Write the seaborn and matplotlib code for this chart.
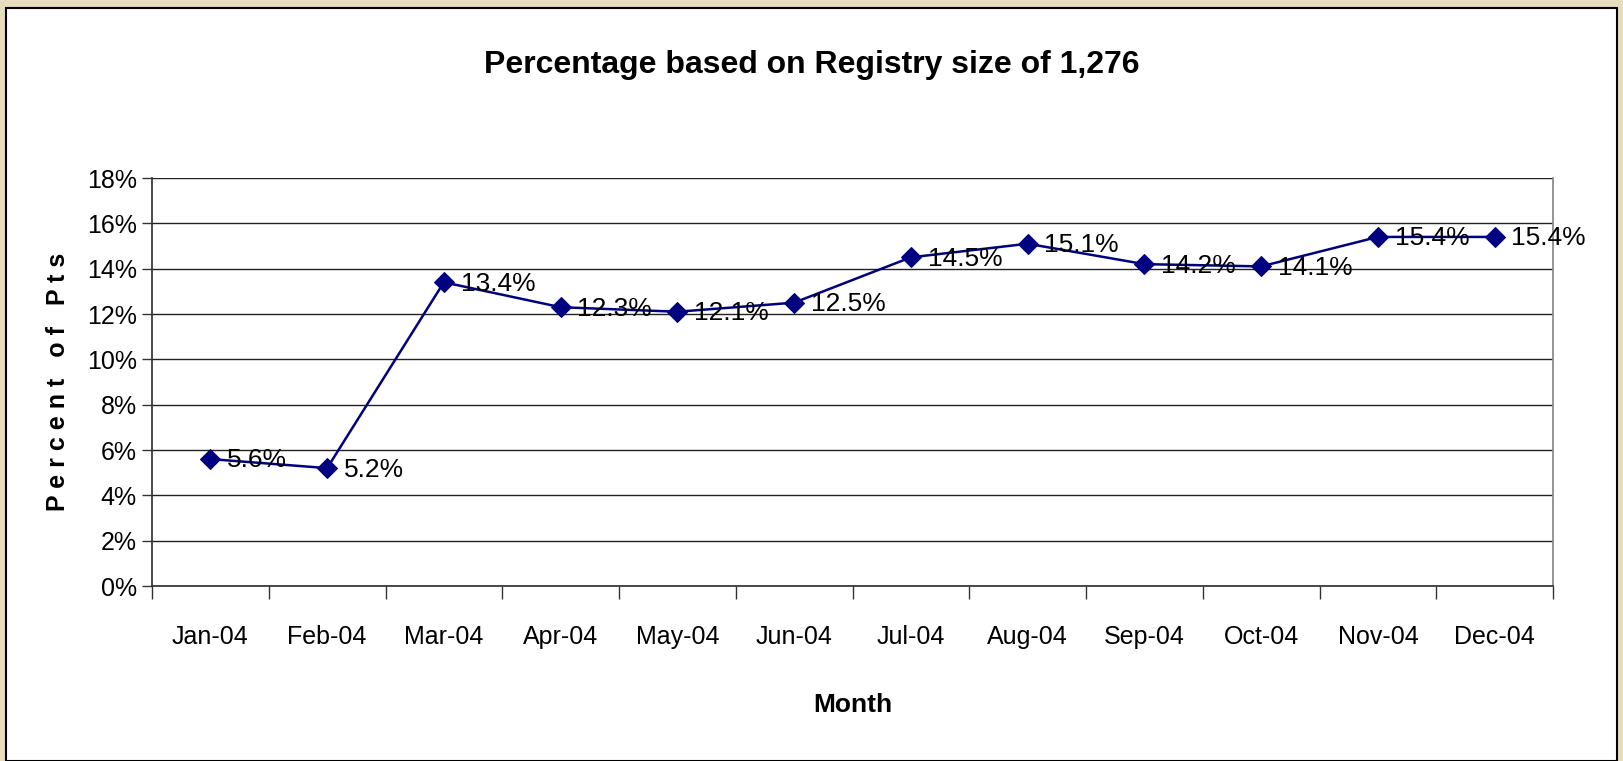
"""Registry percentage by month, line chart with diamond markers."""

import matplotlib

matplotlib.use("Agg")

import matplotlib.pyplot as plt
import pandas as pd
import seaborn as sns
from matplotlib.patches import Rectangle
from matplotlib.ticker import FixedLocator, PercentFormatter

months = ["Jan-04", "Feb-04", "Mar-04", "Apr-04", "May-04", "Jun-04",
          "Jul-04", "Aug-04", "Sep-04", "Oct-04", "Nov-04", "Dec-04"]
percent = [5.6, 5.2, 13.4, 12.3, 12.1, 12.5, 14.5, 15.1, 14.2, 14.1, 15.4, 15.4]
y_ticks = [0, 2, 4, 6, 8, 10, 12, 14, 16, 18]

df = pd.DataFrame({"month": months, "pct": percent})

sns.set_theme(style="white")
plt.rcParams["font.family"] = ["Liberation Sans Narrow", "Liberation Sans", "DejaVu Sans"]
plt.rcParams["text.color"] = "black"
plt.rcParams["xtick.color"] = "black"
plt.rcParams["ytick.color"] = "black"
plt.rcParams["axes.labelcolor"] = "black"

W, H = 1623, 761
fig = plt.figure(figsize=(W / 100, H / 100), dpi=100, facecolor="#e6ddbf")

# white chart panel on the parchment
fig.patches.append(Rectangle((6 / W, 0), (1617 - 6) / W, (761 - 8) / H,
                             transform=fig.transFigure, facecolor="white",
                             edgecolor="black", linewidth=1.5, zorder=-10))

ax = fig.add_axes([152 / W, 1 - 586 / H, (1553 - 152) / W, (586 - 178) / H])
ax.set_facecolor("white")

fs = 18

sns.lineplot(data=df, x="month", y="pct", ax=ax, color="#000080", marker="D",
             markersize=10, markeredgecolor="#000080", linewidth=1.8, sort=False)

for i, v in enumerate(percent):
    ax.annotate(f"{v}%", (i, v), xytext=(12, -1), textcoords="offset points",
                ha="left", va="center", fontsize=fs + 1, color="black")

ax.set_xlim(-0.5, len(months) - 0.5)
ax.set_ylim(0, 18)
ax.yaxis.set_major_locator(FixedLocator(y_ticks))
ax.yaxis.set_major_formatter(PercentFormatter(decimals=0))
ax.grid(axis="y", color="#222222", linewidth=1.0)
ax.set_axisbelow(True)

# ticks between categories, like the original spreadsheet chart
ax.set_xticks(range(len(months)))
ax.set_xticklabels(months, fontsize=fs)
ax.set_xticks([i - 0.5 for i in range(len(months) + 1)], minor=True)
ax.tick_params(axis="x", which="major", length=0, pad=28)
ax.tick_params(axis="x", which="minor", length=9, width=1, color="#333333",
               direction="out", bottom=True)
ax.tick_params(axis="y", length=7, width=1, color="#333333", direction="out",
               left=True, labelsize=fs, pad=4)

ax.spines["right"].set_color("#888888")
ax.spines["left"].set_color("#333333")
ax.spines["bottom"].set_color("#333333")
ax.spines["top"].set_visible(False)

ax.set_xlabel("Month", fontsize=fs + 1, fontweight="bold", labelpad=32)
ax.set_ylabel("P e r c e n t   o f   P t s", fontsize=fs, fontweight="bold",
              labelpad=12)

fig.text(0.5, 1 - 65 / H, "Percentage based on Registry size of 1,276",
         ha="center", va="center", fontsize=23, fontweight="bold")

fig.savefig("out.png", dpi=100, facecolor=fig.get_facecolor())
